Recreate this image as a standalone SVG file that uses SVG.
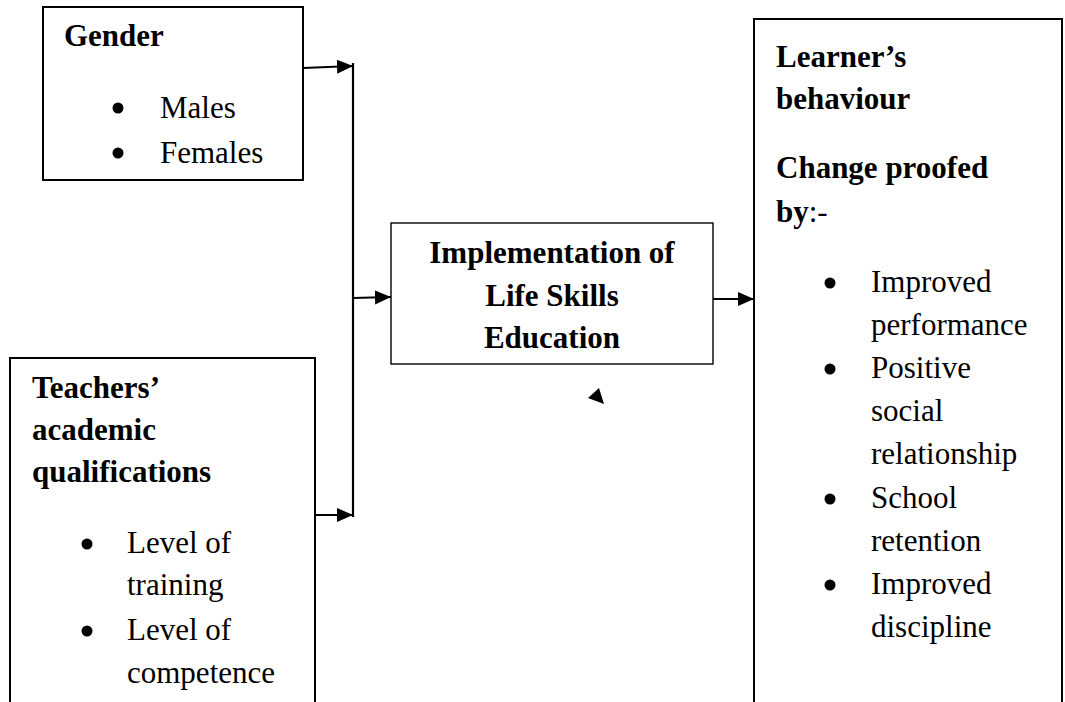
<svg xmlns="http://www.w3.org/2000/svg" width="1065" height="702" viewBox="0 0 1065 702">
<style>
.box{fill:#fff;stroke:#000;stroke-width:2}
.thin{fill:#fff;stroke:#000;stroke-width:1.4}
.t{font-family:"Liberation Serif","Times New Roman",serif;font-size:31px;fill:#000}
.b{font-weight:bold}
.c{text-anchor:middle}
.ln{stroke:#000;stroke-width:2.2;fill:none}
.dot{fill:#000}
</style>
<defs>
<marker id="ah" markerUnits="userSpaceOnUse" markerWidth="18" markerHeight="16" refX="16" refY="7" orient="auto">
<path d="M0,0 L16,7 L0,14 Z" fill="#000"/>
</marker>
</defs>
<rect width="1065" height="702" fill="#fff"/>
<g id="gender">
<rect class="box" x="43" y="7" width="260" height="173"/>
<text class="t b" x="64" y="46">Gender</text>
<circle class="dot" cx="118" cy="108" r="5.5"/>
<text class="t" x="160" y="118">Males</text>
<circle class="dot" cx="118" cy="153" r="5.5"/>
<text class="t" x="160" y="163">Females</text>
</g>
<g id="teachers">
<rect class="box" x="10" y="358" width="305" height="360"/>
<text class="t b" x="32" y="398">Teachers’</text>
<text class="t b" x="32" y="440">academic</text>
<text class="t b" x="32" y="482">qualifications</text>
<circle class="dot" cx="87" cy="544" r="5.5"/>
<text class="t" x="127" y="553">Level of</text>
<text class="t" x="127" y="595">training</text>
<circle class="dot" cx="87" cy="631" r="5.5"/>
<text class="t" x="127" y="640">Level of</text>
<text class="t" x="127" y="683">competence</text>
</g>
<g id="implementation">
<rect class="thin" x="391" y="223" width="322" height="141"/>
<text class="t b c" x="552" y="263">Implementation of</text>
<text class="t b c" x="552" y="306">Life Skills</text>
<text class="t b c" x="552" y="348">Education</text>
</g>
<g id="learner">
<rect class="box" x="754" y="19" width="308" height="700"/>
<text class="t b" x="776" y="67">Learner’s</text>
<text class="t b" x="776" y="109">behaviour</text>
<text class="t b" x="776" y="178">Change proofed</text>
<text class="t" x="776" y="222"><tspan class="b">by</tspan>:-</text>
<circle class="dot" cx="830" cy="283" r="5.5"/>
<text class="t" x="871" y="292">Improved</text>
<text class="t" x="871" y="335">performance</text>
<circle class="dot" cx="830" cy="369" r="5.5"/>
<text class="t" x="871" y="378">Positive</text>
<text class="t" x="871" y="421">social</text>
<text class="t" x="871" y="464">relationship</text>
<circle class="dot" cx="830" cy="499" r="5.5"/>
<text class="t" x="871" y="508">School</text>
<text class="t" x="871" y="551">retention</text>
<circle class="dot" cx="830" cy="585" r="5.5"/>
<text class="t" x="871" y="594">Improved</text>
<text class="t" x="871" y="637">discipline</text>
</g>
<g id="connectors">
<line class="ln" x1="353" y1="63" x2="353" y2="517"/>
<line class="ln" x1="303" y1="68" x2="353" y2="66" marker-end="url(#ah)"/>
<line class="ln" x1="315" y1="515" x2="353" y2="515" marker-end="url(#ah)"/>
<line class="ln" x1="353" y1="298" x2="391" y2="297" marker-end="url(#ah)"/>
<line class="ln" x1="713" y1="299" x2="754" y2="299" marker-end="url(#ah)"/>
<path d="M588,398 L599,388 L604,404 Z" fill="#000"/>
</g>
</svg>
